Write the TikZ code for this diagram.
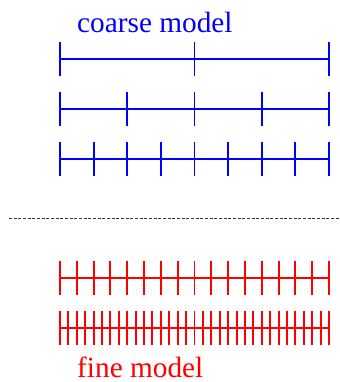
\documentclass[tikz,border=0pt]{standalone}
\usepackage{fontspec}
\setmainfont{Liberation Serif}
\usetikzlibrary{positioning}
\definecolor{gridblue}{HTML}{0000FF}
\definecolor{gridred}{HTML}{FF0000}

\begin{document}
\begin{tikzpicture}[x=.03cm,y=-.03cm]
\tikzset{
  level/.style={line width=1pt},
  tick/.style={line width=1.7pt},
  label/.style={font=\fontsize{25}{28}\selectfont,anchor=base west,inner sep=0pt}
}
\useasboundingbox (0,0) rectangle (340,382);
\node[label,text=gridblue] (coarse) at (77,32) {coarse model};
% coarse levels
\draw[level,gridblue] (60,59) -- (329,59);
\foreach \i in {0,...,2} \draw[tick,gridblue] ({60+\i*269/2},42) -- ({60+\i*269/2},76);
\draw[level,gridblue] (60,109) -- (329,109);
\foreach \i in {0,...,4} \draw[tick,gridblue] ({60+\i*269/4},92) -- ({60+\i*269/4},126);
\draw[level,gridblue] (60,159) -- (329,159);
\foreach \i in {0,...,8} \draw[tick,gridblue] ({60+\i*269/8},142) -- ({60+\i*269/8},176);
% separator
\draw[black!80,line width=.7pt,dash pattern=on .09cm off .05cm] (9,218) -- (340,218);
% fine levels
\draw[level,gridred] (60,278) -- (329,278);
\foreach \i in {0,...,16} \draw[tick,gridred] ({60+\i*269/16},261) -- ({60+\i*269/16},295);
\draw[level,gridred] (60,328) -- (329,328);
\foreach \i in {0,...,32} \draw[tick,gridred] ({60+\i*269/32},311) -- ({60+\i*269/32},345);
\node[label,text=gridred] (fine) at (77,377) {fine model};
\end{tikzpicture}
\end{document}
